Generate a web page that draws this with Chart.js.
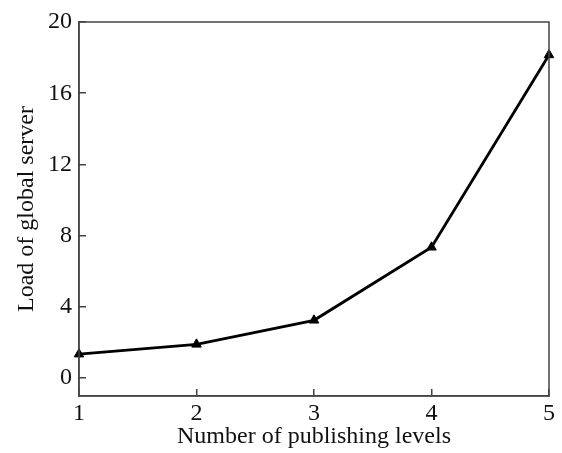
<!DOCTYPE html>
<html>
<head>
<meta charset="utf-8">
<script src="https://cdn.jsdelivr.net/npm/chart.js@4"></script>
<style>
  html, body { margin: 0; padding: 0; background: #fff; }
  #wrap { width: 562px; height: 453px; }
</style>
</head>
<body>
<div id="wrap"><canvas id="grafico" width="562" height="453"></canvas></div>
<script>
const niveis = ['1', '2', '3', '4', '5'];
const carga = [1.35, 1.9, 3.25, 7.35, 18.15];
const ticksY = [0, 4, 8, 12, 16, 20];

const fonte = { family: '"Liberation Serif", serif', size: 24 };

// moldura de cima e da direita
const moldura = {
  id: 'moldura',
  afterDraw(chart) {
    const { ctx, chartArea: a } = chart;
    ctx.save();
    ctx.strokeStyle = '#444';
    ctx.lineWidth = 1.5;
    ctx.strokeRect(a.left, a.top, a.right - a.left, a.bottom - a.top);
    ctx.restore();
  }
};

function desenharGrafico() {
  new Chart(document.getElementById('grafico'), {
    type: 'line',
    data: {
      labels: niveis,
      datasets: [{
        data: carga,
        borderColor: '#000',
        backgroundColor: '#000',
        borderWidth: 2.8,
        pointStyle: 'triangle',
        pointRadius: 5.5,
        pointBorderWidth: 1,
        tension: 0
      }]
    },
    options: {
      responsive: false,
      animation: false,
      layout: { padding: { top: 22, right: 13, left: 0, bottom: 0 } },
      plugins: { legend: { display: false }, tooltip: { enabled: false } },
      scales: {
        x: {
          type: 'category',
          offset: false,
          afterFit: s => { s.height = 57; s.paddingLeft = 0; s.paddingRight = 0; },
          grid: { drawOnChartArea: false, tickLength: -7, color: '#444', lineWidth: 1.5 },
          border: { color: '#444', width: 1.5 },
          ticks: { color: '#111', font: fonte, padding: 10, maxRotation: 0 },
          title: { display: true, text: 'Number of publishing levels', color: '#111', font: fonte, padding: { top: 0, bottom: 2 } }
        },
        y: {
          min: -1,
          max: 20,
          afterFit: s => { s.width = 79; s.paddingTop = 0; s.paddingBottom = 0; },
          afterBuildTicks: s => { s.ticks = ticksY.map(v => ({ value: v })); },
          grid: { drawOnChartArea: false, tickLength: -7, color: '#444', lineWidth: 1.5 },
          border: { color: '#444', width: 1.5 },
          ticks: { color: '#111', font: fonte, padding: 14 },
          title: { display: true, text: 'Load of global server', color: '#111', font: fonte, padding: { top: 12, bottom: 0 } }
        }
      }
    },
    plugins: [moldura]
  });
}

document.fonts.load('24px "Liberation Serif"').then(desenharGrafico, desenharGrafico);
</script>
</body>
</html>
